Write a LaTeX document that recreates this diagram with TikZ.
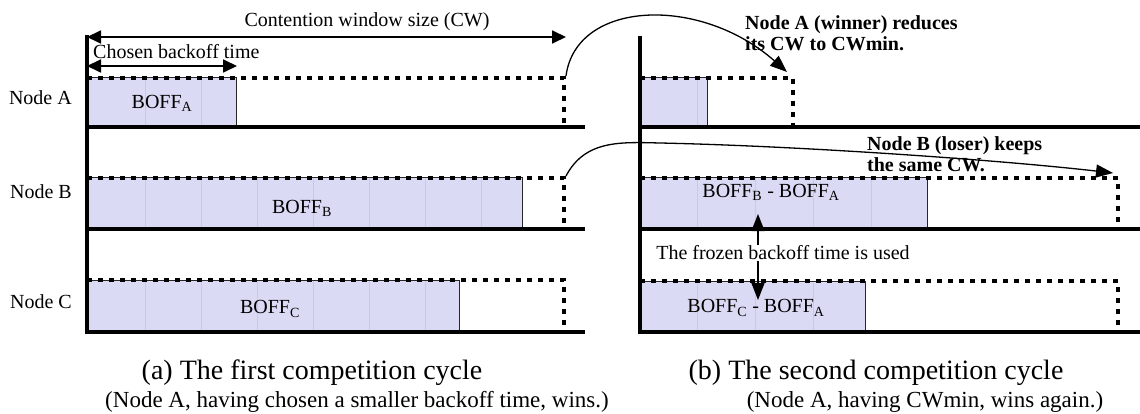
\documentclass[tikz,border=0pt]{standalone}
\usepackage{fontspec}
\setmainfont{Liberation Serif}
\usepackage{tikz}
\usetikzlibrary{arrows.meta,positioning,calc}
\definecolor{boffFill}{RGB}{218,218,244}
\definecolor{slotLine}{RGB}{200,200,238}
\tikzset{
  time line/.style={line width=4.5pt},
  cw bound/.style={line width=4.5pt, dash pattern=on 5pt off 6pt},
  boff box/.style={fill=boffFill},
  box edge/.style={draw=black!85, line width=1pt},
  slot line/.style={draw=slotLine, line width=1pt},
  span arrow/.style={line width=1.8pt,
    {Triangle[length=14pt,width=13pt]}-{Triangle[length=14pt,width=13pt]}},
  jump arrow/.style={line width=1.3pt, -{Triangle[length=17pt,width=13pt]}},
  plain text/.style={font=\fontsize{20}{24}\selectfont, inner sep=1pt},
  note text/.style={font=\fontsize{20}{21.5}\selectfont\bfseries,
    align=left, inner sep=0pt},
  caption text/.style={font=\fontsize{28}{32}\selectfont, inner sep=0pt},
  subcaption text/.style={font=\fontsize{23}{26}\selectfont, inner sep=0pt}
}

\begin{document}
\begin{tikzpicture}[x=1pt, y=-1pt]
\useasboundingbox (0,0) rectangle (1140,414);

% (a) first cycle: one row per node
\foreach \tp/\bt/\bx/\slots in {78/127/236/{145,201},
    178/229/522/{145,201,257,313,369,425,481},
    280/332/459/{145,201,257,313,369,425}} {
  \fill[boff box] (87,\tp) rectangle (\bx,\bt);
  \foreach \x in \slots \draw[slot line] (\x,\tp) -- (\x,\bt);
  \draw[box edge] (87,\tp) rectangle (\bx,\bt);
  \draw[cw bound] (87,\tp) -| (564,\bt);
  \draw[time line] (87,\bt) -- (585,\bt);
}
\draw[time line] (87,35) -- (87,334);

\node[plain text, anchor=east] (labelA) at (73,98) {Node A};
\node[plain text, anchor=east] (labelB) at (73,192) {Node B};
\node[plain text, anchor=east] (labelC) at (73,302) {Node C};

\node[plain text] (boffA) at (162,103) {BOFF\textsubscript{A}};
\node[plain text] (boffB) at (302,208) {BOFF\textsubscript{B}};
\node[plain text] (boffC) at (270,309) {BOFF\textsubscript{C}};

\coordinate (cwLeft) at (87,37);
\coordinate (cwRight) at (566,37);
\draw[span arrow] (cwLeft) -- (cwRight);
\node[plain text] (cwText) at (367,22) {Contention window size (CW)};

\coordinate (bkLeft) at (87,66);
\coordinate (bkRight) at (237,66);
\draw[span arrow] (bkLeft) -- (bkRight);
\node[plain text, anchor=west] (bkText) at (92,52) {Chosen backoff time};

% (b) second cycle
\foreach \tp/\bt/\bx/\cx/\slots in {78/127/707/793/{697},
    178/229/927/1118/{697,755,813,871},
    281/332/865/1118/{697,755,813}} {
  \fill[boff box] (640,\tp) rectangle (\bx,\bt);
  \foreach \x in \slots \draw[slot line] (\x,\tp) -- (\x,\bt);
  \draw[box edge] (640,\tp) rectangle (\bx,\bt);
  \draw[cw bound] (640,\tp) -| (\cx,\bt);
  \draw[time line] (640,\bt) -- (1140,\bt);
}
\draw[time line] (640,36) -- (640,334);

\node[plain text] (boffBA) at (771,192) {BOFF\textsubscript{B} - BOFF\textsubscript{A}};
\node[plain text] (boffCA) at (756,308) {BOFF\textsubscript{C} - BOFF\textsubscript{A}};

\node[plain text] (frozen) at (783,253) {The frozen backoff time is used};
\coordinate (frozenUp) at (758,214);
\coordinate (frozenDown) at (758,300);
\draw[jump arrow] (frozen.north -| frozenUp) -- (frozenUp);
\draw[jump arrow] (frozen.south -| frozenDown) -- (frozenDown);

% moving the CW from (a) to (b)
\coordinate (cwCornerA) at (566,76);
\coordinate (cwMinA) at (787,72);
\draw[jump arrow] (cwCornerA) .. controls (576,0) and (700,-5) .. (cwMinA);
\coordinate (cwCornerB) at (566,176);
\coordinate (cwKeepB) at (1113,173);
\draw[jump arrow] (cwCornerB) .. controls (585,140) and (620,142) .. (660,143)
  .. controls (800,146) and (1000,160) .. (cwKeepB);

\node[note text, anchor=north west] (winnerNote) at (745,15)
  {Node A (winner) reduces\\its CW to CWmin.};
\node[note text, anchor=north west] (loserNote) at (867,136)
  {Node B (loser) keeps\\the same CW.};

\node[caption text] (capA) at (312,373) {(a) The first competition cycle};
\node[subcaption text] (subA) at (357,402)
  {(Node A, having chosen a smaller backoff time, wins.)};
\node[caption text] (capB) at (876,373) {(b) The second competition cycle};
\node[subcaption text] (subB) at (925,402) {(Node A, having CWmin, wins again.)};
\end{tikzpicture}
\end{document}
